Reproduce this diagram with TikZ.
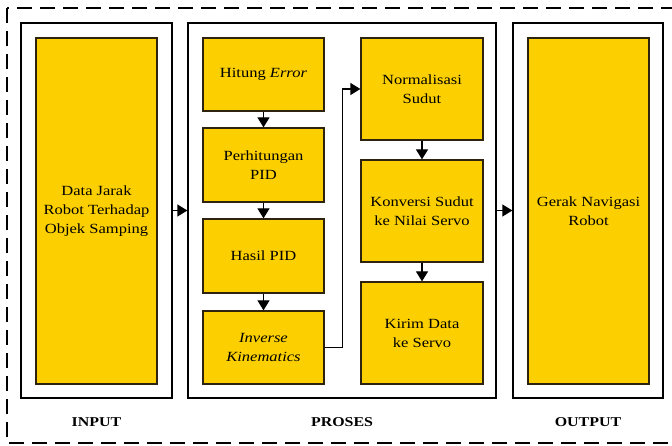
\documentclass[tikz,border=0pt]{standalone}
\usepackage{fontspec}
\setmainfont{Liberation Serif}[FakeStretch=1.18]
\usepackage{xcolor}
\usepackage{tikz}
\usetikzlibrary{arrows.meta,positioning}

\definecolor{kuning}{RGB}{252,208,0}
\definecolor{tepi}{RGB}{45,35,15}

\begin{document}
\begin{tikzpicture}[
  x=1pt, y=-1pt,
  frame/.style={rectangle, draw, line width=1.3pt, fill=white},
  ybox/.style={rectangle, draw=tepi, line width=1.3pt, fill=kuning, align=center,
    minimum width=121pt, font=\fontsize{14}{19}\selectfont},
  lbl/.style={font=\fontsize{13.5}{16}\selectfont\bfseries},
  arr/.style={-{Triangle[length=10pt,width=12pt]}, line width=1.3pt}
]
\useasboundingbox (0,0) rectangle (672,446);
\clip (0,0) rectangle (672,446);

% dashed outer border
\draw[line width=1.5pt, dash pattern=on 15pt off 8pt] (7,8) rectangle (700,443);

% three frames
\node[frame, minimum width=151pt, minimum height=375pt] (inframe) at (96.5,210.5) {};
\node[frame, minimum width=308pt, minimum height=375pt] (proframe) at (342,210.5) {};
\node[frame, minimum width=150pt, minimum height=375pt] (outframe) at (588,210.5) {};

% input / output
\node[ybox, minimum height=346pt] (data) at (96.5,211) {Data Jarak\\Robot Terhadap\\Objek Samping};
\node[ybox, minimum height=346pt] (gerak) at (588.5,211) {Gerak Navigasi\\Robot};

% proses, left column
\node[ybox, minimum height=73pt] (err) at (263.5,74.5) {Hitung \textit{Error}};
\node[ybox, minimum height=74pt] (pid) at (263.5,165) {Perhitungan\\PID};
\node[ybox, minimum height=74pt] (hasil) at (263.5,256) {Hasil PID};
\node[ybox, minimum height=73pt] (ik) at (263.5,347.5) {\textit{Inverse}\\\textit{Kinematics}};

% proses, right column
\node[ybox, minimum width=122pt, minimum height=102pt] (norm) at (422,89) {Normalisasi\\Sudut};
\node[ybox, minimum width=122pt, minimum height=102pt] (konv) at (422,211) {Konversi Sudut\\ke Nilai Servo};
\node[ybox, minimum width=122pt, minimum height=102pt] (kirim) at (422,333) {Kirim Data\\ke Servo};

% labels
\node[lbl] (linput) at (96.5,422) {INPUT};
\node[lbl] (lproses) at (342,422) {PROSES};
\node[lbl] (loutput) at (588,422) {OUTPUT};

% arrows
\draw[arr] (inframe.east) -- (proframe.west);
\draw[arr] (proframe.east) -- (outframe.west);
\draw[arr] (err) -- (pid);
\draw[arr] (pid) -- (hasil);
\draw[arr] (hasil) -- (ik);
\draw[arr] (ik.east) -- ++(18,0) |- (norm.west);
\draw[arr] (norm) -- (konv);
\draw[arr] (konv) -- (kirim);

\end{tikzpicture}
\end{document}
